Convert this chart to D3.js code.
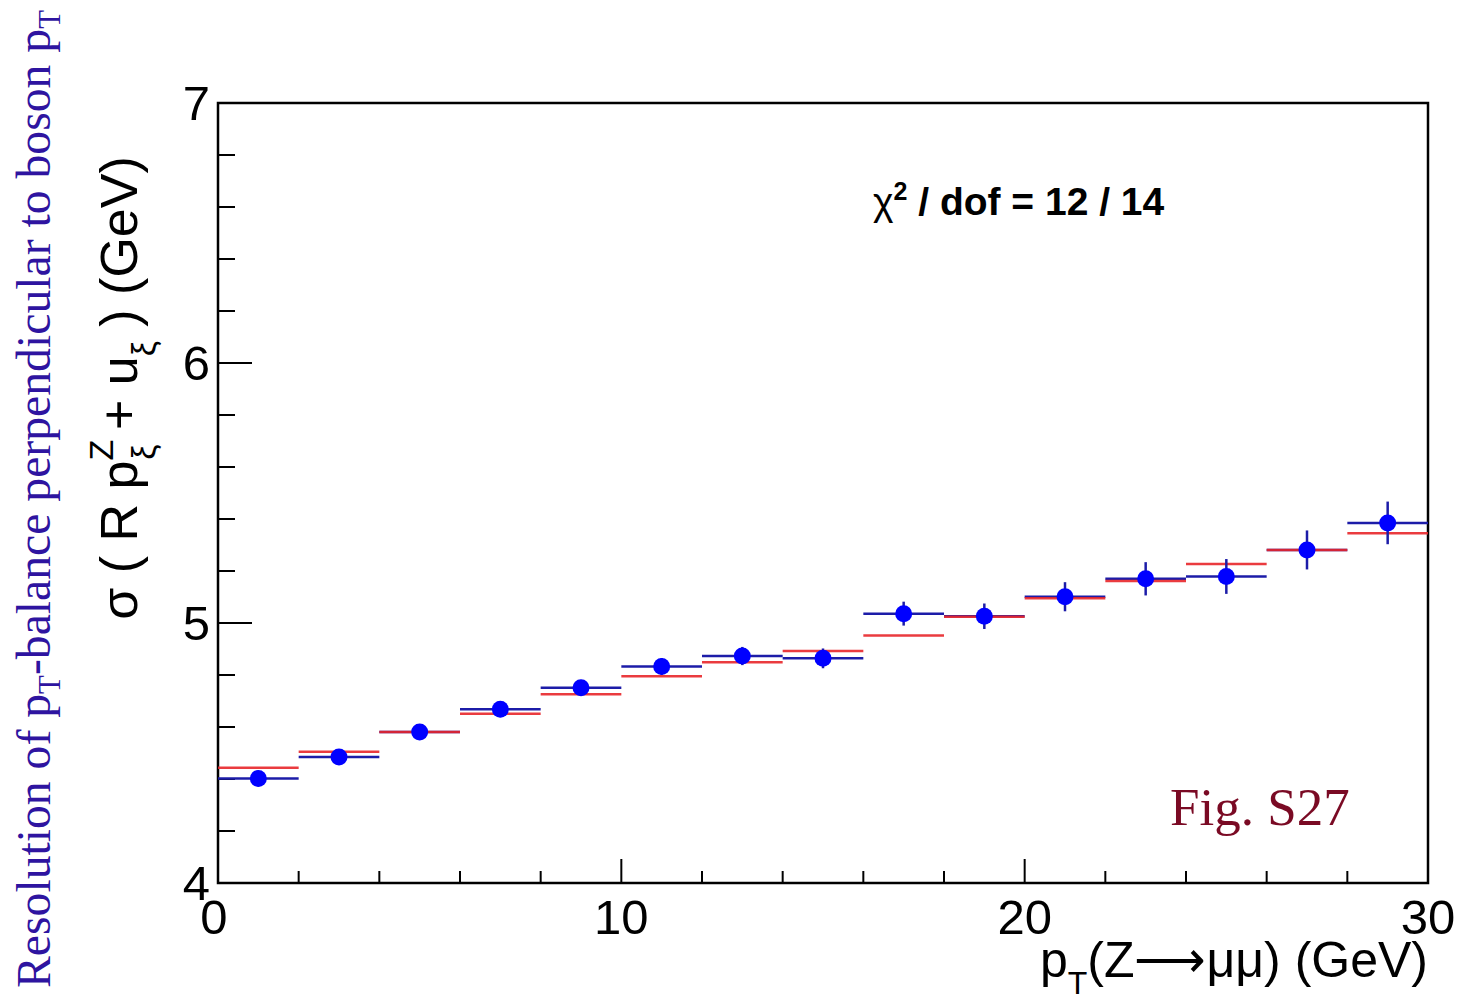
<!DOCTYPE html>
<html><head><meta charset="utf-8">
<script src="https://cdn.jsdelivr.net/npm/d3@7"></script>
<style>body{margin:0;background:#fff}svg{display:block}</style>
</head><body>
<script>
const binEdges = [0,2,4,6,8,10,12,14,16,18,20,22,24,26,28,30];
const dataValues = [4.402,4.485,4.581,4.668,4.751,4.833,4.873,4.864,5.036,5.026,5.101,5.170,5.179,5.281,5.385];
const dataErrors = [0.03,0.03,0.03,0.03,0.03,0.032,0.035,0.038,0.046,0.049,0.056,0.064,0.067,0.075,0.082];
const modelValues = [4.443,4.505,4.581,4.651,4.726,4.795,4.849,4.892,4.952,5.024,5.095,5.162,5.227,5.281,5.345];
const xTicks = [0,10,20,30];
const yTicks = [4,5,6,7];

const W=1458,H=1003;
const L=218,R=1428,T=103,B=883;
const svg=d3.select("body").append("svg").attr("width",W).attr("height",H);
const x=d3.scaleLinear().domain([0,30]).range([L,R]);
const y=d3.scaleLinear().domain([4,7]).range([B,T]);
const bins=d3.range(dataValues.length).map(i=>({x0:binEdges[i],x1:binEdges[i+1],v:dataValues[i],e:dataErrors[i],m:modelValues[i]}));

const font="'Liberation Sans', Arial, Helvetica, sans-serif";
const serif="'Liberation Serif', 'Times New Roman', serif";

const g=svg.append("g");
d3.range(4,7.001,0.2).forEach(v=>{
  const major=Math.abs(v-Math.round(v))<1e-6;
  g.append("line").attr("x1",L).attr("x2",L+(major?34:17)).attr("y1",y(v)).attr("y2",y(v)).attr("stroke","#000").attr("stroke-width",2);
});
d3.range(0,30.001,2).forEach(v=>{
  const major=Math.abs(v%10)<1e-6;
  g.append("line").attr("x1",x(v)).attr("x2",x(v)).attr("y1",B).attr("y2",B-(major?24:12)).attr("stroke","#000").attr("stroke-width",2);
});
svg.append("rect").attr("x",L).attr("y",T).attr("width",R-L).attr("height",B-T).attr("fill","none").attr("stroke","#000").attr("stroke-width",2.5);

svg.selectAll(".yl").data(yTicks).enter().append("text")
  .attr("x",L-8).attr("y",d=>y(d)+17).attr("text-anchor","end")
  .attr("font-family",font).attr("font-size",49).text(d=>d);
svg.selectAll(".xl").data(xTicks).enter().append("text")
  .attr("x",d=>x(d)+(d===0?-4:0)).attr("y",B+51).attr("text-anchor","middle")
  .attr("font-family",font).attr("font-size",49).text(d=>d);

const blue="#1c1ca8", red="#e8262a";
svg.selectAll(".bh").data(bins).enter().append("line")
  .attr("x1",d=>x(d.x0)).attr("x2",d=>x(d.x1)).attr("y1",d=>y(d.v)).attr("y2",d=>y(d.v))
  .attr("stroke",blue).attr("stroke-width",2.5);
svg.selectAll(".rh").data(bins).enter().append("line")
  .attr("x1",d=>x(d.x0)).attr("x2",d=>x(d.x1)).attr("y1",d=>y(d.m)).attr("y2",d=>y(d.m))
  .attr("stroke",red).attr("stroke-width",2.5).attr("stroke-opacity",0.9);
svg.selectAll(".ev").data(bins).enter().append("line")
  .attr("x1",d=>x((d.x0+d.x1)/2)).attr("x2",d=>x((d.x0+d.x1)/2)).attr("y1",d=>y(d.v-d.e)).attr("y2",d=>y(d.v+d.e))
  .attr("stroke",blue).attr("stroke-width",2.5);
svg.selectAll(".pt").data(bins).enter().append("circle")
  .attr("cx",d=>x((d.x0+d.x1)/2)).attr("cy",d=>y(d.v)).attr("r",8.5).attr("fill","#0000ff");

const chi=svg.append("text").attr("x",873).attr("y",215).attr("font-family",font).attr("font-size",39).attr("font-weight","bold");
chi.append("tspan").attr("font-weight","normal").text("χ");
chi.append("tspan").attr("font-size",25).attr("dy",-15).text("2");
chi.append("tspan").attr("dy",15).text(" / dof = 12 / 14");

const xt=svg.append("text").attr("x",R).attr("y",977).attr("text-anchor","end").attr("font-family",font).attr("font-size",50);
xt.append("tspan").text("p");
xt.append("tspan").attr("font-size",32).attr("dy",17).text("T");
xt.append("tspan").attr("dy",-17).text("(Z⟶μμ) (GeV)");

const yt=svg.append("text").attr("transform","translate(137,388) rotate(-90)").attr("text-anchor","middle").attr("font-family",font).attr("font-size",52);
yt.append("tspan").text("σ ( R p");
yt.append("tspan").attr("font-size",34).attr("dy",-24).text("Z");
yt.append("tspan").attr("font-size",34).attr("dy",42).attr("dx",-20).text("ξ");
yt.append("tspan").attr("dy",-18).text(" + u");
yt.append("tspan").attr("font-size",34).attr("dy",18).text("ξ");
yt.append("tspan").attr("dy",-18).text(" ) (GeV)");

const ot=svg.append("text").attr("transform","translate(50,499) rotate(-90)").attr("text-anchor","middle").attr("font-family",serif).attr("font-size",48).attr("fill","#2e14a0")
  .attr("textLength",978).attr("lengthAdjust","spacingAndGlyphs");
ot.append("tspan").text("Resolution of p");
ot.append("tspan").attr("font-size",31).attr("dy",10).text("T");
ot.append("tspan").attr("dy",-10).text("-balance perpendicular to boson p");
ot.append("tspan").attr("font-size",31).attr("dy",10).text("T");

svg.append("text").attr("x",1170).attr("y",825).attr("font-family",serif).attr("font-size",53).attr("fill","#7a0a24").text("Fig. S27");
</script>
</body></html>
